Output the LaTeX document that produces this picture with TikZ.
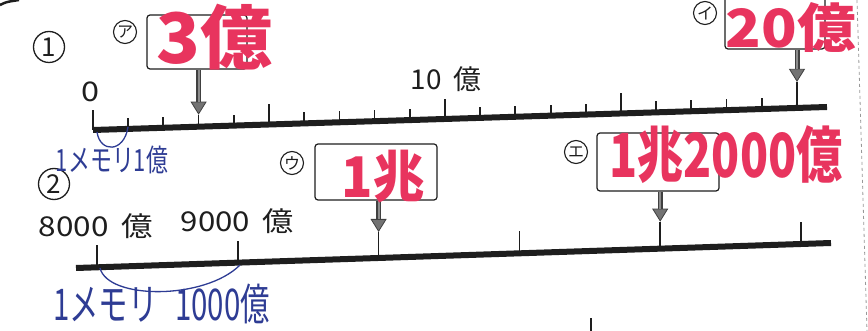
\documentclass[tikz,border=0pt]{standalone}
\usepackage{fontspec}
\setmainfont{Noto Sans CJK JP}
\usetikzlibrary{arrows.meta,calc}
\definecolor{redpen}{HTML}{E8345E}
\definecolor{bluepen}{HTML}{2E3C94}
\definecolor{ink}{HTML}{1E1E1E}
\newcommand{\fitto}[3]{\resizebox*{#1pt}{#2pt}{#3}}
\begin{document}
\begin{tikzpicture}[x=1pt,y=-1pt,
  axisline/.style={line width=6pt, ink},
  tickline/.style={line width=1.8pt, ink},
  thinline/.style={line width=1.6pt, ink},
  ansbox/.style={draw=ink, line width=1.2pt, rounded corners=3pt, inner sep=0pt},
  circnum/.style={circle, draw=ink, line width=1.3pt, inner sep=0pt, minimum size=31pt, text=ink},
  circkana/.style={circle, draw=ink, line width=1.1pt, inner sep=0pt, minimum size=23pt, text=ink, font=\fontsize{16}{16}\selectfont},
  label/.style={inner sep=0pt, text=ink},
  redtext/.style={inner sep=0pt, text=redpen, font=\bfseries},
  bluetext/.style={inner sep=0pt, text=bluepen},
  bluearc/.style={line width=1.3pt, bluepen},
  shaft/.style={line width=5pt, draw=black!75, -{Triangle[length=13pt,width=16pt,line width=0.8pt,fill=black!55]}},
  shaftcore/.style={line width=2pt, draw=black!45, shorten >=13pt}
]
\useasboundingbox (0,0) rectangle (868,331);
\fill[white] (0,0) rectangle (868,331);
\clip (0,0) rectangle (868,331);

% scan artifacts
\draw[line width=2.5pt, ink] (0,5) .. controls (6,2) .. (19,0);
\draw[dashed, line width=0.8pt, black!40] (857,0) -- (867,331);
\draw[line width=2.5pt, ink] (591,318) -- (591,331);

% ---------- line 1 ----------
\node[circnum, font=\fontsize{26}{26}\selectfont] (n1) at (49,47) {1};
\coordinate (A1) at (93,130);
\coordinate (B1) at (827,107);
\draw[axisline] (A1) -- (B1);
\foreach \k in {0,...,20} {
  \pgfmathsetmacro\tt{35.2*\k/734}
  \pgfmathsetmacro\hh{ifthenelse(mod(\k,5)==0,20,11)}
  \coordinate (t1-\k) at ($(A1)!\tt!(B1)$);
  \draw[tickline] (t1-\k) -- ++(0,-\hh);
}
\node[label] (l0) at (91,92) {\fitto{18}{20}{0}};
\node[label] (l10) at (446,79.5) {\fitto{70}{25}{10\hspace{4pt}億}};

% answer boxes line 1
\node[circkana] (ka) at (125,32) {ア};
\node[ansbox, minimum width=100pt, minimum height=54pt] (boxA) at (197,42) {};
\coordinate (tipA) at ($(t1-3)+(0,-12)$);
\draw[thinline] (tipA) -- (t1-3);
\draw[shaft] (tipA |- boxA.south) -- (tipA);
\draw[shaftcore] (tipA |- boxA.south) -- (tipA);

\node[circkana] (ki) at (705,13) {イ};
\node[ansbox, minimum width=100pt, minimum height=56pt] (boxI) at (775,21) {};
\coordinate (tipI) at ($(t1-20)+(0,-26)$);
\draw[thinline] (tipI) -- (t1-20);
\draw[shaft] (tipI |- boxI.south) -- (tipI);
\draw[shaftcore] (tipI |- boxI.south) -- (tipI);

% ---------- line 2 ----------
\node[circnum, font=\fontsize{26}{26}\selectfont] (n2) at (54,184) {2};
\coordinate (A2) at (76,268);
\coordinate (B2) at (831,243);
\draw[axisline] (A2) -- (B2);
\foreach \k in {0,...,5} {
  \pgfmathsetmacro\tt{(21+140.8*\k)/755}
  \coordinate (t2-\k) at ($(A2)!\tt!(B2)$);
  \draw[tickline] (t2-\k) -- ++(0,-22);
}
\node[label] (l8000) at (96,226.5) {\fitto{114}{25}{8000\hspace{4pt}億}};
\node[label] (l9000) at (237.5,221.5) {\fitto{113}{25}{9000\hspace{4pt}億}};

\node[circkana] (ku) at (292,163) {ウ};
\node[ansbox, minimum width=122pt, minimum height=56pt] (boxU) at (376,172) {};
\coordinate (tipU) at ($(t2-2)+(0,-26)$);
\draw[thinline] (tipU) -- (t2-2);
\draw[shaft] (tipU |- boxU.south) -- (tipU);
\draw[shaftcore] (tipU |- boxU.south) -- (tipU);

\node[circkana] (ke) at (576,152) {エ};
\node[ansbox, minimum width=122pt, minimum height=58pt] (boxE) at (658,162) {};
\coordinate (tipE) at ($(t2-4)+(0,-27)$);
\draw[thinline] (tipE) -- (t2-4);
\draw[shaft] (tipE |- boxE.south) -- (tipE);
\draw[shaftcore] (tipE |- boxE.south) -- (tipE);

% ---------- handwritten answers ----------
\node[redtext] (ansA) at (215,37.5) {\fitto{116}{66}{3億}};
\node[redtext] (ansI) at (791,28) {\fitto{130}{50}{20億}};
\node[redtext] (ansU) at (383.5,176.5) {\fitto{83}{53}{1兆}};
\node[redtext] (ansE) at (726,155) {\fitto{233}{58}{1兆2000億}};

% ---------- blue notes ----------
\coordinate (c1a) at (97,132);
\coordinate (c1b) at (128,127);
\draw[bluearc] (c1a) .. controls (100,153) and (124,153) .. (c1b);
\node[bluetext] (note1) at (112,160) {\fitto{112}{28}{1メモリ1億}};

\coordinate (c2a) at (100,268);
\coordinate (c2b) at (240,265);
\draw[bluearc] (c2a) .. controls (108,300) and (205,300) .. (c2b);
\node[bluetext] (note2) at (161.5,304) {\fitto{217}{40}{1メモリ\hspace{6pt}1000億}};
\end{tikzpicture}
\end{document}
